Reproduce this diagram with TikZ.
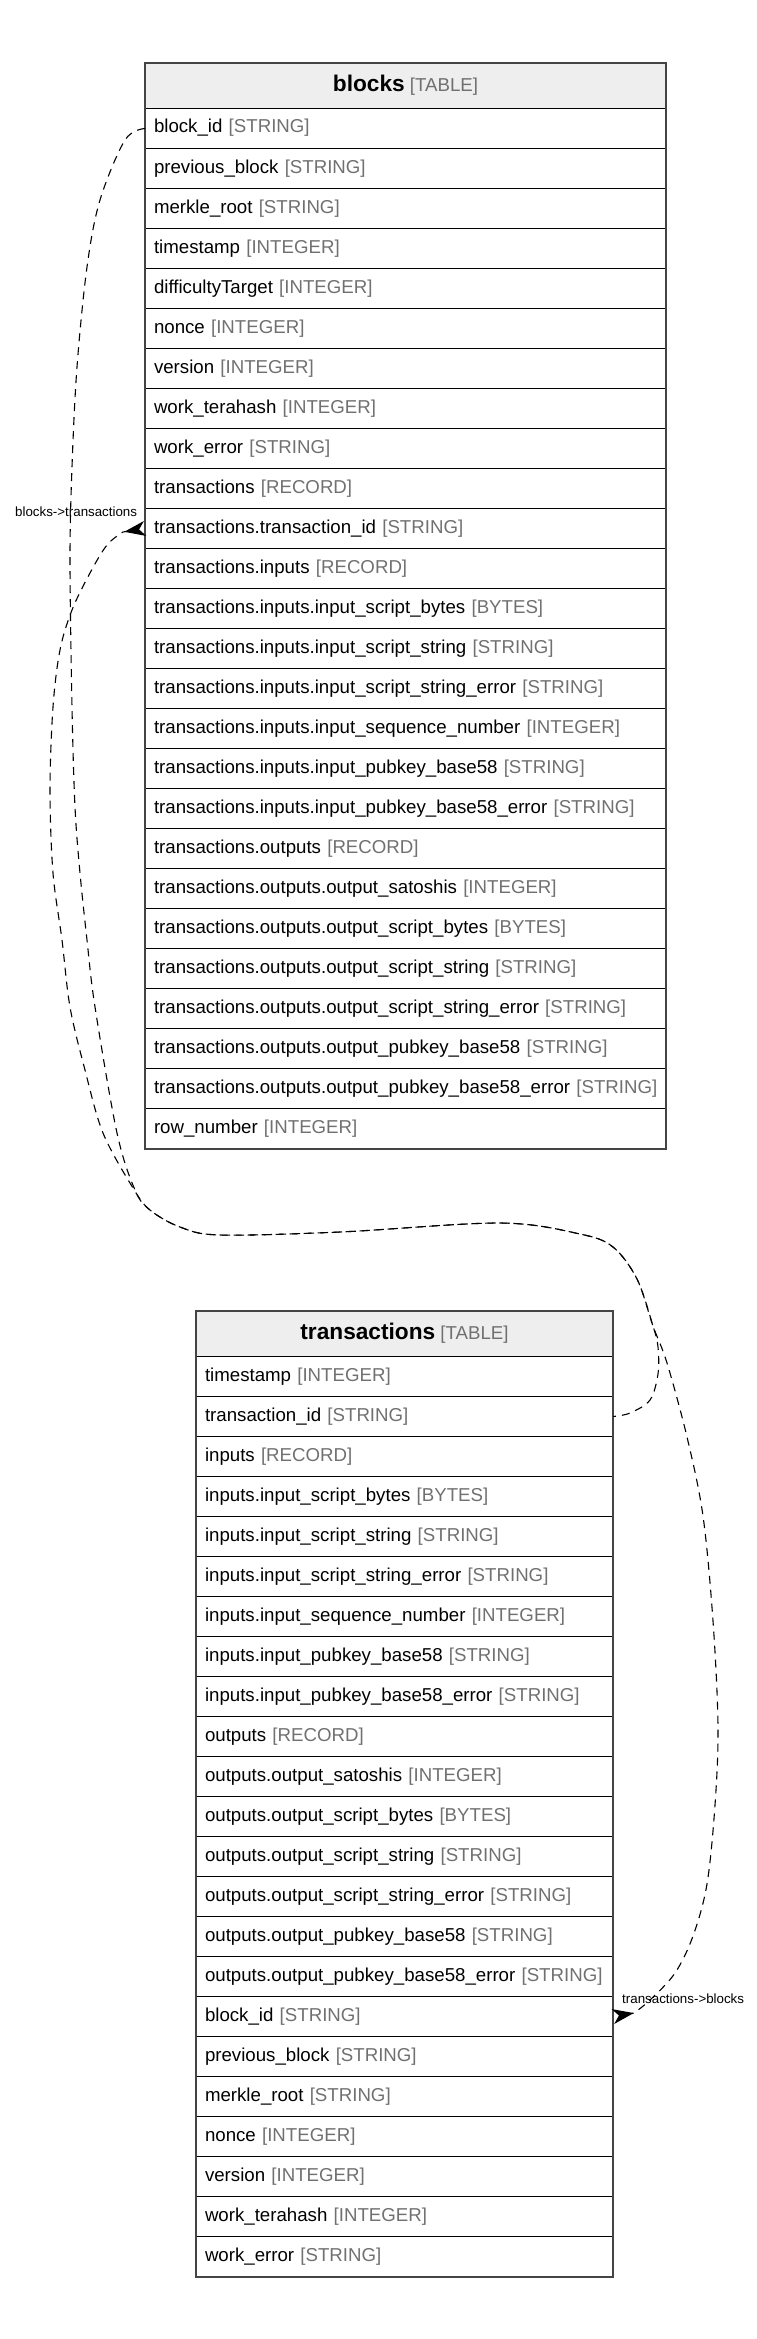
\documentclass[tikz,border=0pt]{standalone}
\usepackage{fontspec}
\setmainfont{Liberation Sans}
\usetikzlibrary{arrows.meta}
\definecolor{typegray}{HTML}{707070}
\definecolor{hdrfill}{HTML}{EEEEEE}
\definecolor{framegray}{HTML}{444444}
\newcommand\rowfont{\fontsize{18.67}{22}\selectfont}
\newcommand\hdrfont{\fontsize{22.67}{26}\selectfont\bfseries}
\newcommand\lblfont{\fontsize{13.33}{15}\selectfont}
\newcommand\ty[1]{{\color{typegray}[#1]}}
\begin{document}
\begin{tikzpicture}[x=1pt,y=-1pt,
  row/.style={draw=black, line width=1pt, minimum height=40pt, inner xsep=8.5pt, inner ysep=0pt,
    text height=13.5pt, text depth=4.5pt, align=left, anchor=north west, font=\rowfont},
  hdr/.style={draw=black, line width=1pt, fill=hdrfill, minimum height=45pt, inner xsep=8.5pt, inner ysep=0pt,
    text height=16pt, text depth=5pt, align=center, anchor=north west},
  frame/.style={draw=framegray, line width=1.6pt},
  lbl/.style={font=\lblfont, inner sep=0pt, anchor=base west},
  rel/.style={line width=1.1pt, dash pattern=on 8pt off 6pt,
    -{Stealth[reversed,length=21pt,width=15pt,inset=6pt]}}
]
\useasboundingbox (0,0) rectangle (757,2339);

% blocks table
\node[hdr, text width=503pt] (bh) at (145,63) {{\hdrfont blocks}\hspace{5.2pt}{\rowfont\ty{TABLE}}};
\foreach \n/\t [count=\i] in {
 block\_id/STRING, previous\_block/STRING, merkle\_root/STRING, timestamp/INTEGER,
 difficultyTarget/INTEGER, nonce/INTEGER, version/INTEGER, work\_terahash/INTEGER,
 work\_error/STRING, transactions/RECORD, transactions.transaction\_id/STRING,
 transactions.inputs/RECORD, transactions.inputs.input\_script\_bytes/BYTES,
 transactions.inputs.input\_script\_string/STRING,
 transactions.inputs.input\_script\_string\_error/STRING,
 transactions.inputs.input\_sequence\_number/INTEGER,
 transactions.inputs.input\_pubkey\_base58/STRING,
 transactions.inputs.input\_pubkey\_base58\_error/STRING,
 transactions.outputs/RECORD, transactions.outputs.output\_satoshis/INTEGER,
 transactions.outputs.output\_script\_bytes/BYTES,
 transactions.outputs.output\_script\_string/STRING,
 transactions.outputs.output\_script\_string\_error/STRING,
 transactions.outputs.output\_pubkey\_base58/STRING,
 transactions.outputs.output\_pubkey\_base58\_error/STRING,
 row\_number/INTEGER}
 { \node[row, text width=503pt] (b\i) at (145,{108+(\i-1)*40}) {\mbox{\n\ \ty{\t}}}; }
\draw[frame] (bh.north west) rectangle (b26.south east);

% transactions table
\node[hdr, text width=399pt] (th) at (196,1311) {{\hdrfont transactions}\hspace{5.2pt}{\rowfont\ty{TABLE}}};
\foreach \n/\t [count=\i] in {
 timestamp/INTEGER, transaction\_id/STRING, inputs/RECORD,
 inputs.input\_script\_bytes/BYTES, inputs.input\_script\_string/STRING,
 inputs.input\_script\_string\_error/STRING, inputs.input\_sequence\_number/INTEGER,
 inputs.input\_pubkey\_base58/STRING, inputs.input\_pubkey\_base58\_error/STRING,
 outputs/RECORD, outputs.output\_satoshis/INTEGER, outputs.output\_script\_bytes/BYTES,
 outputs.output\_script\_string/STRING, outputs.output\_script\_string\_error/STRING,
 outputs.output\_pubkey\_base58/STRING, outputs.output\_pubkey\_base58\_error/STRING,
 block\_id/STRING, previous\_block/STRING, merkle\_root/STRING, nonce/INTEGER,
 version/INTEGER, work\_terahash/INTEGER, work\_error/STRING}
 { \node[row, text width=399pt] (t\i) at (196,{1356+(\i-1)*40}) {\mbox{\n\ \ty{\t}}}; }
\draw[frame] (th.north west) rectangle (t23.south east);

% connectors
\draw[rel] plot[smooth, tension=0.55] coordinates {(b1.west) (125,140) (100,200) (87,267) (77,367)
  (72,467) (70,560) (72,707) (75,807) (80,873) (87,940) (95,1007) (117,1133) (135,1190) (150,1210)
  (180,1227) (220,1235) (340,1232) (500,1223) (580,1234) (613,1247) (637,1279) (653,1326)
  (667,1363) (687,1437) (703,1516) (713,1621) (718,1726) (715,1805) (707,1884) (693,1936)
  (675,1973) (650,2000) (634,2013)} -- (t17.east);

\draw[rel, dash phase=5pt] plot[smooth, tension=0.55] coordinates {(t2.east) (630,1413) (650,1400) (658,1374)
  (658,1347) (653,1326) (637,1279) (613,1247) (580,1234) (500,1223) (340,1232) (220,1235)
  (180,1227) (150,1210) (133,1188) (103,1133) (85,1070) (70,1007) (62,940) (53,873) (50,790)
  (53,707) (60,650) (72,610) (90,573) (107,545) (123,532)} -- (b11.west);

% labels
\node[lbl] (l1) at (15,516) {blocks->transactions};
\node[lbl] (l2) at (622,2003) {transactions->blocks};
\end{tikzpicture}
\end{document}
